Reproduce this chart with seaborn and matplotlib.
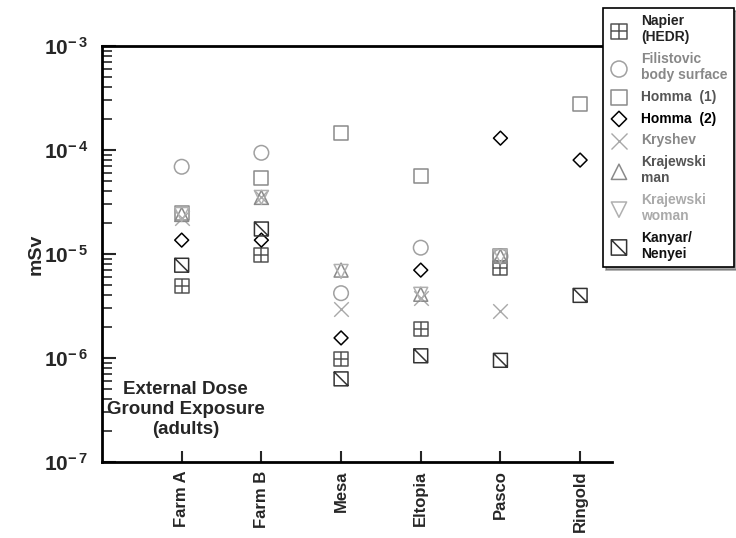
import numpy as np
import pandas as pd
import matplotlib
matplotlib.use("Agg")
import matplotlib.pyplot as plt
import seaborn as sns
from matplotlib.path import Path

sites = ["Farm A", "Farm B", "Mesa", "Eltopia", "Pasco", "Ringold"]

napier      = [4.9e-6, 9.8e-6, 9.8e-7, 1.9e-6, 7.3e-6, np.nan]
filistovic  = [6.9e-5, 9.4e-5, 4.2e-6, 1.15e-5, 9.5e-6, np.nan]
homma1      = [2.5e-5, 5.4e-5, 1.46e-4, 5.6e-5, 9.6e-6, 2.77e-4]
homma2      = [1.36e-5, 1.36e-5, 1.56e-6, 7.0e-6, 1.3e-4, 8.0e-5]
kryshev     = [2.2e-5, 3.5e-5, 2.96e-6, 3.8e-6, 2.83e-6, np.nan]
kraj_man    = [2.4e-5, 3.5e-5, 7.0e-6, 4.1e-6, 9.5e-6, np.nan]
kraj_woman  = [2.4e-5, 3.5e-5, 6.8e-6, 4.1e-6, 9.5e-6, np.nan]
kanyar      = [7.8e-6, 1.74e-5, 6.3e-7, 1.05e-6, 9.5e-7, 4.0e-6]

series_labels = ["Napier\n(HEDR)", "Filistovic\nbody surface", "Homma  (1)",
                 "Homma  (2)", "Kryshev", "Krajewski\nman", "Krajewski\nwoman",
                 "Kanyar/\nNenyei"]
series_values = [napier, filistovic, homma1, homma2, kryshev, kraj_man,
                 kraj_woman, kanyar]

ytick_vals = [1e-7, 1e-6, 1e-5, 1e-4, 1e-3]
ytick_labels = [r"$\mathbf{10^{-\,7}}$", r"$\mathbf{10^{-\,6}}$", r"$\mathbf{10^{-\,5}}$",
                r"$\mathbf{10^{-\,4}}$", r"$\mathbf{10^{-\,3}}$"]

# custom marker paths
napier_marker = Path([(-1, -1), (1, -1), (1, 1), (-1, 1), (-1, -1),
                      (0, -1), (0, 1), (-1, 0), (1, 0)],
                     [Path.MOVETO, Path.LINETO, Path.LINETO, Path.LINETO, Path.CLOSEPOLY,
                      Path.MOVETO, Path.LINETO, Path.MOVETO, Path.LINETO])
kanyar_marker = Path([(-1, -1), (1, -1), (1, 1), (-1, 1), (-1, -1),
                      (-1, 1), (1, -1)],
                     [Path.MOVETO, Path.LINETO, Path.LINETO, Path.LINETO, Path.CLOSEPOLY,
                      Path.MOVETO, Path.LINETO])

styles = [
    dict(marker=napier_marker, color="#555555", s=100),
    dict(marker="o", color="#a0a0a0", s=110),
    dict(marker="s", color="#8a8a8a", s=100),
    dict(marker="D", color="#000000", s=50),
    dict(marker="x", color="#a8a8a8", s=110),
    dict(marker="^", color="#8a8a8a", s=100),
    dict(marker="v", color="#b0b0b0", s=100),
    dict(marker=kanyar_marker, color="#333333", s=100),
]
text_colors = ["#222222", "#888888", "#555555", "#000000", "#888888", "#555555", "#aaaaaa", "#111111"]

sns.set_theme(style="white")
plt.rcParams["font.family"] = ["Liberation Sans", "DejaVu Sans"]
plt.rcParams["mathtext.fontset"] = "custom"
plt.rcParams["mathtext.rm"] = "Liberation Sans"
plt.rcParams["mathtext.bf"] = "Liberation Sans:bold"
plt.rcParams["font.weight"] = "bold"

fig = plt.figure(figsize=(7.36, 5.38), dpi=100)
ax = fig.add_axes([102/736, 1-462/538, (612-102)/736, (462-46)/538])

for lab, vals, st in zip(series_labels, series_values, styles):
    df = pd.DataFrame({"site": sites, "dose": vals}).dropna()
    if st["marker"] == "x":
        sns.scatterplot(data=df, x="site", y="dose", ax=ax, marker="x",
                        color=st["color"], s=st["s"], linewidth=1.0, label=lab)
    else:
        sns.scatterplot(data=df, x="site", y="dose", ax=ax, marker=st["marker"],
                        facecolor="none", edgecolor=st["color"], s=st["s"],
                        linewidth=1.1, label=lab)

ax.set_yscale("log")
ax.set_ylim(1e-7, 1e-3)
ax.set_xlim(-1, 5.4)
ax.set_xticks(range(len(sites)))
ax.set_xticklabels(sites, rotation=90, fontsize=12, fontweight="bold")
ax.set_yticks(ytick_vals)
ax.set_yticklabels(ytick_labels, fontsize=15)
ax.set_xlabel("")
ax.set_ylabel("mSv", fontsize=14, fontweight="bold", labelpad=-1)

ax.tick_params(axis="y", which="major", direction="in", length=10, width=1.5, left=True, pad=10)
ax.tick_params(axis="y", which="minor", direction="in", length=7, width=1.2, left=True)
ax.tick_params(axis="x", which="major", direction="in", length=8, width=1.5, bottom=True, pad=6)

for sp in ["left", "bottom", "top"]:
    ax.spines[sp].set_linewidth(2)
    ax.spines[sp].set_color("black")
ax.spines["right"].set_visible(False)

ax.text(0.05, 3.2e-7, "External Dose\nGround Exposure\n(adults)", ha="center", va="center",
        fontsize=13.5, fontweight="bold", linespacing=1.2)

h, l = ax.get_legend_handles_labels()
ax.get_legend().remove()
leg = fig.legend(h, l, loc="upper left", bbox_to_anchor=(603/736, 1-8/538),
                 borderaxespad=0, frameon=True, fancybox=False, shadow=True,
                 labelspacing=0.55, handletextpad=0.9, borderpad=0.45,
                 handlelength=1.4, markerscale=1.1,
                 prop={"weight": "bold", "size": 10})
leg.get_frame().set_edgecolor("black")
leg.get_frame().set_linewidth(1.2)
for t, c in zip(leg.get_texts(), text_colors):
    t.set_color(c)

fig.savefig("out.png", dpi=100)
